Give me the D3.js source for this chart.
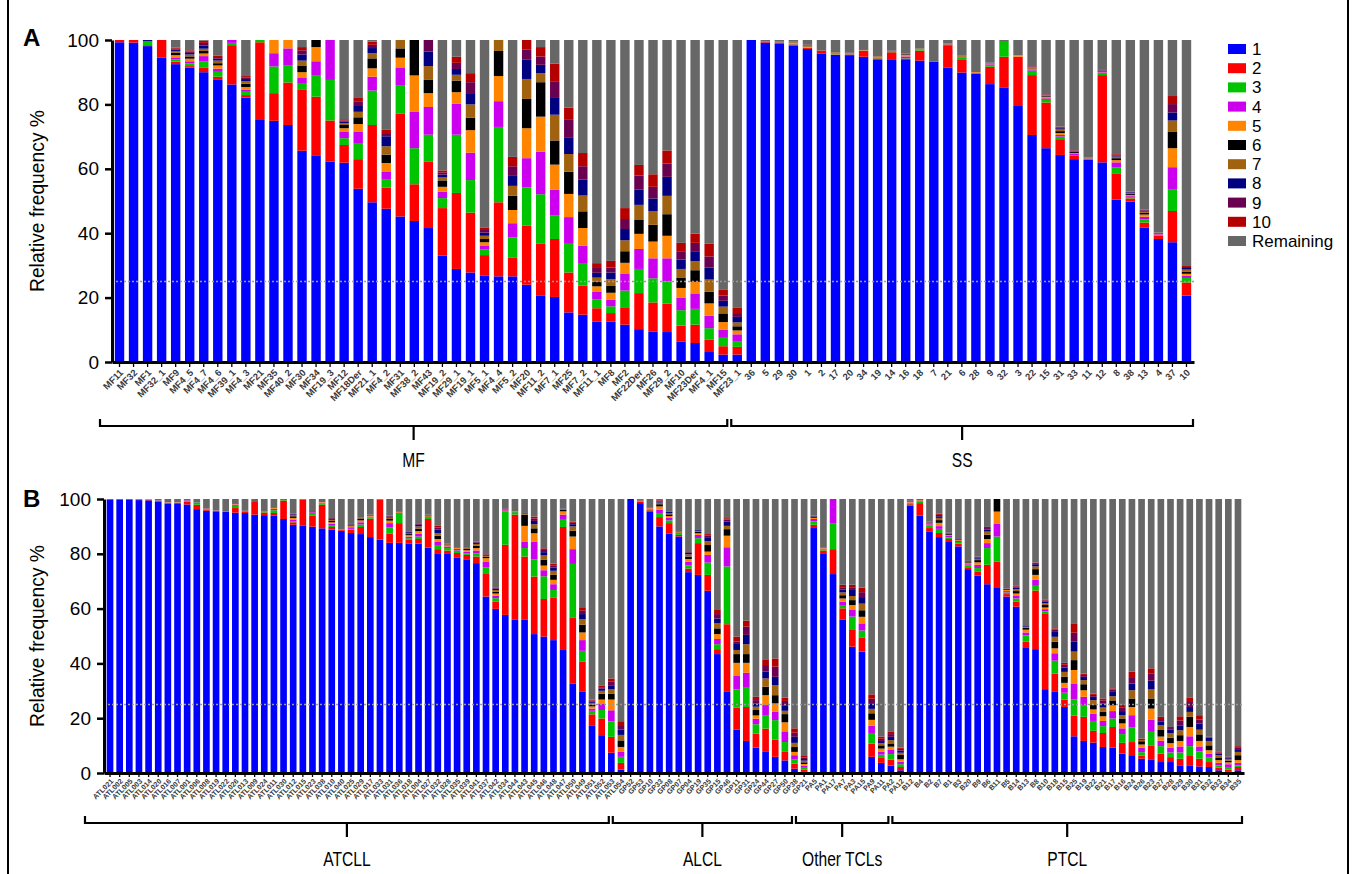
<!DOCTYPE html>
<html>
<head>
<meta charset="utf-8">
<script src="https://cdn.jsdelivr.net/npm/d3@7"></script>
<style>
  body { margin: 0; background: #fff; }
  svg { display: block; font-family: "Liberation Sans", Arial, Helvetica, sans-serif; }
  .narrow { font-family: "Liberation Sans Narrow", "Liberation Sans", Arial, sans-serif; }
</style>
</head>
<body>
<div id="chart"></div>
<script>
// ---- data: panel A (MF / SS samples) ----
const mfNames = ["MF11","MF32","MF1","MF32_1","MF9","MF4_5","MF4_7","MF4_6","MF39_1","MF4_3",
  "MF21","MF35","MF40_2","MF30","MF34","MF19_3","MF12","MF18Der","MF21_1","MF4_2",
  "MF31","MF38_2","MF43","MF19_2","MF29_1","MF19_1","MF5_1","MF4_4","MF5_2","MF20",
  "MF11_2","MF7_1","MF25","MF7_2","MF11_1","MF8","MF2","MF22Der","MF26","MF29_2",
  "MF10","MF23Der","MF4_1","MF15","MF23_1"];
const ssNames = ["36","5","29","30","1","2","17","20","34","19","14","16","18","7","21","6",
  "28","9","32","3","22","15","31","33","11","12","8","38","13","4","37","10"];

const aC1 = [99.3,99.2,98.1,94.6,92.5,91.4,90.0,87.8,86.2,82.1, 75.4,74.9,73.6,65.6,64.2,62.3,61.9,53.8,49.6,47.6,
  45.2,43.8,41.6,33.0,28.9,27.8,26.9,26.6,26.6,24.0, 20.7,20.2,15.4,14.7,12.6,12.6,11.6,10.2,9.5,9.3, 6.4,5.9,3.1,2.3,2.3,
  100,99.2,98.8,98.3,97.2,95.7,95.4,95.3,94.8,94.0, 93.8,93.8,93.6,93.3,91.5,89.9,89.5,86.3,85.3,79.5,
  70.5,66.4,64.3,63.0,62.8,62.0,50.4,49.8,41.8,38.2, 37.2,20.6];
const aC2 = [0.7,0.8,0.3,5.4,0.8,0.5,1.5,0.8,12.2,0.8, 23.9,8.6,13.2,18.9,18.2,12.7,5.5,9.2,24.0,6.6,
  32.0,11.4,20.7,14.8,23.6,18.6,6.3,23.0,5.9,18.3, 16.0,18.0,12.4,9.0,4.1,2.6,5.4,11.2,9.0,8.8, 4.9,5.7,3.8,2.6,2.4,
  0,0.2,0.4,0.3,0.3,1.0,0.1,0.2,1.8,0.3, 2.4,0.3,3.1,0,6.9,3.9,0.2,5.4,9.5,15.3,
  18.6,14.2,4.9,1.0,0.2,27.1,8.2,1.0,1.5,1.0, 9.7,4.1];
const aC3 = [0,0,1.3,0,0.7,0.8,1.8,1.5,0.7,1.0, 0.7,8.3,5.4,1.9,6.5,12.6,2.1,5.0,10.7,2.4,
  8.8,11.2,8.3,3.1,18.1,10.1,1.7,23.4,6.2,11.9, 15.4,7.4,8.9,6.8,2.8,2.1,5.2,7.5,7.5,6.9, 4.8,4.9,3.6,2.6,1.8,
  0,0,0.1,0.1,0.1,0,0.1,0.1,0.1,0.1, 0.1,0.2,0.2,0,0.1,0.7,0,0.6,4.6,0,
  1.4,0.8,0.8,0.3,0.1,0.7,1.9,0.4,1.0,0.3, 6.8,1.4];
const aC4 = [0,0,0,0,0.6,0.7,1.7,1.0,0.9,0.7, 0,4.1,5.2,1.8,4.5,12.4,2.1,3.6,4.3,2.6,
  5.5,11.4,8.6,2.0,9.6,8.5,1.3,8.0,4.4,9.1, 13.2,7.9,8.3,5.6,2.4,2.1,5.3,6.2,6.2,7.2, 3.8,4.8,3.9,2.6,2.1,
  0,0,0.1,0.1,0.1,0,0,0.1,0.1,0.2, 0.1,0.6,0.2,0,0.1,0.2,0,0.2,0,0,
  0.4,0.5,0.5,0.3,0.1,0.2,1.5,0.3,0.8,0.2, 6.8,0.7];
const aC5 = [0,0,0,0,0.7,0.8,0.8,1.0,0,0.8, 0,4.1,2.6,1.8,4.4,0,1.0,2.3,2.6,2.6,
  3.0,11.2,4.3,1.5,3.6,7.0,1.0,7.8,4.1,9.3, 10.9,7.8,7.2,5.5,1.6,2.1,3.3,4.7,5.2,7.0, 3.1,3.6,3.8,2.3,1.2,
  0,0,0.1,0.3,0.3,0,0.3,0.2,0.1,0.2, 0.1,0.5,0.1,0,0.1,0.2,0.3,0.2,0,0.5,
  0.3,0.5,0.6,0.3,0.1,0.2,0.7,0.4,0.7,0.2, 5.9,0.6];
const aC6 = [0,0,0,0,0.7,0.7,0.8,0.7,0,1.0, 0,0,0,2.1,2.2,0,1.0,2.1,3.1,2.6,
  2.9,11.0,4.1,2.0,3.6,3.9,1.0,7.8,4.4,9.1, 10.7,7.5,6.9,5.2,1.5,2.1,3.6,4.3,5.2,6.7, 3.1,3.6,3.6,2.7,1.3,
  0,0,0.1,0.1,0.1,0,0.1,0.1,0.1,0.1, 0.1,0.2,0.1,0,0.1,0.1,0,0.1,0,0,
  0.2,0.3,0.6,0.3,0.1,0.2,0.6,0.3,0.5,0.2, 5.2,0.7];
const aC7 = [0,0,0,0,0.6,0.6,0.7,0.8,0,0.8, 0,0,0,1.5,0,0,0.6,1.7,1.6,2.6,
  2.6,0,4.3,0.9,1.8,4.1,1.0,3.4,3.1,6.2, 2.8,8.0,5.5,4.9,1.2,2.1,3.4,4.7,4.3,5.7, 2.8,2.8,3.8,2.1,1.2,
  0,0.1,0,0.2,0.2,0,0.2,0.1,0.1,0.1, 0.1,0.1,0.1,0,0.1,0.1,0,0.1,0,0,
  0.2,0.2,0.5,0.2,0.1,0.1,0.5,0.3,0.4,0.1, 3.4,0.6];
const aC8 = [0,0,0.3,0,0.4,0.5,1.0,0.6,0,0.7, 0,0,0,1.9,0,0,0.5,1.8,1.6,3.1,
  0,0,4.5,0.9,1.8,3.5,1.0,0,3.1,6.1, 2.6,5.2,5.2,5.0,1.5,2.1,3.5,4.7,3.9,5.9, 2.9,3.1,3.7,1.8,1.7,
  0,0,0,0.1,0.1,0,0,0.1,0.1,0, 0.1,0.1,0,0,0,0,0,0.1,0,0,
  0.1,0.1,0.4,0.2,0,0.1,0.3,0.2,0.3,0, 2.5,0.5];
const aC9 = [0,0,0,0,0.3,0.4,0.8,0.5,0,0.5, 0,0,0,1.3,0,0,0.3,1.3,1.0,1.0,
  0,0,3.6,0.7,1.9,3.4,0.8,0,3.0,3.1, 2.6,5.2,5.6,4.1,1.5,1.5,3.1,4.4,3.6,4.1, 2.6,2.6,3.5,1.6,1.2,
  0,0.1,0,0,0.1,0,0,0,0,0, 0,0,0,0,0,0,0,0,0,0,
  0.1,0.1,0.3,0.1,0,0.1,0.3,0.1,0.2,0, 2.6,0.3];
const aC10 = [0,0,0,0,0.3,0.4,0.7,0.4,0,0.4, 0,0,0,1.0,0,0,0.4,1.2,1.0,1.0,
  0,0,0,0.6,1.9,2.8,0.8,0,2.9,2.9, 2.9,5.5,3.6,4.1,1.5,2.1,3.4,3.3,3.9,4.1, 2.6,2.9,3.9,1.8,1.6,
  0,0,0,0,0,0,0,0,0,0, 0,0,0,0,0,0,0,0,0,0,
  0.1,0.1,0.2,0.1,0,0,0.2,0.1,0.1,0, 2.5,0.3];

// ---- data: panel B (ATCLL / ALCL / Other TCLs / PTCL) ----
const atcllNames = ["ATL021","ATL002","ATL005","ATL003","ATL014","ATL020","ATL016","ATL007","ATL001","ATL006",
  "ATL008","ATL019","ATL022","ATL026","ATL013","ATL009","ATL024","ATL011","ATL030","ATL012",
  "ATL015","ATL023","ATL038","ATL010","ATL040","ATL025","ATL029","ATL017","ATL033","ATL031",
  "ATL036","ATL018","ATL004","ATL027","ATL032","ATL028","ATL035","ATL039","ATL041","ATL037",
  "ATL042","ATL034","ATL044","ATL043","ATL045","ATL046","ATL048","ATL047","ATL050","ATL049",
  "ATL051","ATL052","ATL053","ATL054"];
const alclNames = ["GP52","GP53","GP10","GP33","GP08","GP07","GP04","GP19","GP35","GP15",
  "GP46","GP11","GP31","GP24","GP44","GP27","GP50","GP38","GP21"];
const otherNames = ["PA5","PA1","PA17","PA7","PA3","PA15","PA9","PA11","PA2","PA12"];
const ptclNames = ["B12","B4","B2","B7","B1","B3","B20","B9","B6","B11",
  "B5","B14","B13","B8","B10","B18","B15","B25","B19","B22",
  "B21","B17","B16","B24","B26","B23","B27","B28","B29","B30",
  "B31","B32","B33","B34","B35"];

const bC1 = [99.8,99.8,99.8,99.6,99.5,99.0,98.3,98.2,98.0,96.3, 95.7,95.5,95.4,95.0,94.9,94.3,94.1,94.0,92.7,90.6,
  90.2,89.9,89.3,88.8,88.4,87.6,87.2,86.1,85.2,84.0, 84.0,83.8,83.7,82.3,80.2,80.2,78.7,78.0,76.6,64.4,
  59.9,57.7,55.9,55.9,50.7,49.8,48.5,44.9,32.7,29.6, 17.4,13.8,7.4,1.2,
  100,98.5,95.5,90.0,87.3,86.3,73.3,72.3,66.5,43.4, 29.6,15.9,11.7,9.3,7.7,5.9,4.6,1.6,0.6,
  89.4,80.2,72.6,55.9,46.1,44.3,5.9,3.7,2.7,1.0,
  97.6,93.9,88.2,86.1,84.3,82.7,74.4,72.0,68.9,67.8, 64.4,60.7,45.9,45.2,30.6,29.6,24.1,13.4,11.7,11.1,
  9.5,9.3,7.1,6.5,5.2,5.0,4.0,4.0,2.8,2.8, 2.4,2.2,1.0,0.6,1.0];
const bC2 = [0.2,0.2,0.2,0.2,0.2,0.3,0.3,0.4,1.1,1.6, 0.3,0.2,0.1,1.7,0.6,4.6,1.0,0.9,6.7,0.9,
  9.6,4.0,8.6,1.0,0.3,1.2,2.6,6.7,14.6,3.3, 7.2,1.3,1.7,10.4,1.5,1.0,1.6,1.6,2.4,8.5,
  2.7,25.6,38.4,23.1,21.0,13.7,15.6,44.9,24.1,11.0, 4.0,6.1,5.8,2.5,
  0,0.5,0.4,3.4,3.9,0.6,1.3,11.6,5.8,1.8, 24.7,8.0,12.4,5.1,8.5,6.3,3.3,1.8,0.6,
  1.2,1.0,9.1,4.2,6.1,5.2,4.8,1.8,2.2,1.2,
  0.5,4.6,1.2,1.5,1.1,1.0,0.7,1.6,7.1,9.4, 0.9,1.8,2.1,21.4,27.7,6.7,2.7,7.6,8.8,4.3,
  5.1,7.5,3.9,4.8,1.2,5.1,3.1,1.8,2.4,3.4, 2.8,1.8,1.0,0.6,1.2];
const bC3 = [0,0,0,0.1,0.1,0.1,0.1,0.1,0.2,0.9, 0.2,0.1,0.1,0.8,0.1,0,0.3,1.0,0.2,0.4,
  0,1.0,0.5,0.7,0.2,0.3,0.9,0.5,0,2.3, 3.4,0.6,0.9,0.4,1.5,0.9,0.9,0.6,1.2,2.2,
  1.2,12.2,0.9,3.1,6.3,8.3,2.7,2.9,19.5,4.0, 1.3,3.1,5.6,2.2,
  0,0.2,0.3,1.5,1.0,0.4,1.2,1.8,4.5,1.8, 21.1,6.6,7.0,3.4,4.7,7.1,3.4,1.5,0.7,
  1.2,0.4,9.5,1.2,4.9,2.5,3.9,1.2,2.0,1.0,
  0.3,0.6,0.9,1.5,0.6,0.6,0.6,1.2,6.1,9.1, 0.6,1.2,2.2,1.7,0.7,4.7,2.5,5.8,4.3,3.6,
  2.5,3.1,3.2,5.3,1.2,4.9,2.7,1.7,2.3,3.6, 2.7,1.6,0.7,1.0,0.6];
const bC4 = [0,0,0,0.1,0.1,0.1,0.1,0.1,0.2,0.1, 0.2,0.1,0,0.5,0.1,0,0.2,0.5,0,0.6,
  0,0.3,0.3,0.5,0.1,0.6,0.8,0.3,0,1.6, 0.4,0.6,1.0,0.3,1.3,0.6,0.6,0.5,1.0,2.1,
  0.9,0.4,0.3,2.4,6.5,2.2,2.1,1.6,5.4,3.9, 0.8,2.4,4.1,1.8,
  0,0.2,0.3,1.2,0.9,0.3,1.3,1.2,2.8,1.9, 7.0,4.9,5.5,2.0,3.9,3.0,3.9,1.6,0.7,
  0.9,0.3,8.8,1.2,2.4,2.6,2.7,1.0,1.5,0.9,
  0.3,0.3,0.5,1.0,0.5,0.4,0.5,1.2,1.8,4.6, 0.5,0.9,1.1,2.2,0.8,2.7,1.9,5.9,3.0,2.7,
  1.9,2.7,2.1,4.5,1.6,4.5,2.0,1.7,2.2,3.6, 1.8,1.5,1.0,1.0,0.9];
const bC5 = [0,0,0,0,0.1,0,0.1,0.1,0,0, 0.1,0,0,0.2,0,0,0,0.3,0,0.6,
  0,0.2,0.2,0.5,0,0.4,0.7,0.3,0,0.9, 0.2,0.5,1.0,0.3,0.9,0.4,0.3,0.6,0.9,1.2,
  0.8,0.3,0.2,5.7,3.0,1.7,1.6,1.2,4.6,2.8, 0.8,1.4,3.9,1.8,
  0,0.1,0.2,1.2,0.7,0.2,1.0,0.6,1.2,1.8, 4.2,4.8,3.6,1.2,3.6,3.1,3.3,1.2,0.7,
  0.4,0.2,0,1.2,1.8,2.4,2.1,1.2,1.2,0.9,
  0.2,0.2,0.3,1.2,0.4,0.3,0.4,0.9,1.5,4.5, 0.4,0.9,1.0,1.8,0.6,1.8,1.7,4.9,2.4,1.5,
  1.7,2.1,1.8,3.0,1.2,4.0,1.5,1.7,2.0,3.4, 2.0,1.2,1.0,0.7,1.0];
const bC6 = [0,0,0,0,0,0,0,0,0,0, 0.1,0,0,0.2,0,0,0,0.2,0,0.6,
  0,0.2,0,0.5,0,0.3,0.5,0.2,0,0.6, 0.2,0.4,0.9,0.3,1.2,0.3,0.2,0.5,0.8,0.5,
  0.7,0.2,0.2,4.1,1.8,2.2,1.8,0.5,2.1,2.8, 0.7,2.2,2.2,2.4,
  0,0.1,0.1,0.8,0.6,0.1,0.9,0.5,2.4,2.1, 2.4,3.2,3.2,2.0,3.1,3.0,3.0,1.8,0.6,
  0.3,0.1,0,1.2,1.8,2.4,2.4,1.2,1.2,1.6,
  0.2,0.2,0.2,1.0,0.3,0.3,0.3,0.8,1.6,4.6, 0.3,0.9,0.7,2.1,0.9,2.4,2.2,3.6,2.2,1.6,
  1.6,1.8,1.8,3.1,1.2,3.7,2.4,2.0,2.1,3.7, 2.4,1.8,1.0,0.6,1.8];
const bC7 = [0,0,0,0,0,0,0,0,0,0, 0,0,0,0.1,0,0,0,0.1,0,0.4,
  0,0,0,0.4,0,0.3,0.3,0.2,0,0.5, 0,0.4,0.8,0.2,1.0,0.2,0.1,0.3,0.7,0.4,
  0.6,0.2,0,0.3,1.5,1.5,1.5,0.3,1.6,2.1, 0.6,1.0,1.5,2.0,
  0,0.1,0.1,0.6,0.5,0.1,0.8,0.4,1.4,1.8, 1.2,1.5,3.6,1.2,3.0,3.7,1.2,1.5,0.6,
  0.2,0.1,0,1.0,1.5,2.4,1.6,0.8,1.2,0.8,
  0.2,0.1,0.1,0.8,0.3,0.2,0.2,0.5,1.1,0, 0.2,0.7,0.4,1.0,0.7,1.8,1.8,3.1,1.5,1.8,
  1.6,1.5,1.2,3.0,0.5,3.3,1.8,1.7,1.8,1.8, 1.7,1.6,0.8,0.5,1.2];
const bC8 = [0,0,0,0,0,0,0,0,0,0, 0,0,0,0,0,0,0,0,0,0.3,
  0,0,0,0.3,0,0.2,0.2,0.1,0,0.4, 0,0.3,0.6,0.1,1.2,0.1,0,0.2,0.5,0.3,
  0.5,0.1,0,0.2,1.2,1.2,1.2,0.2,0.8,1.8, 0.5,0.8,1.3,2.0,
  0,0.1,0.1,0.4,0.4,0,0.6,0.3,1.2,1.8, 1.6,2.2,3.4,1.2,2.5,3.0,1.8,2.2,0.6,
  0.2,0.1,0,1.0,2.2,2.4,2.1,0.8,1.2,0.8,
  0.1,0.1,0.1,0.6,0.2,0.2,0.2,0.4,0.8,0, 0.1,0.6,0.3,0.8,0.6,1.8,1.6,3.6,1.2,1.2,
  1.5,1.6,1.5,2.4,0.3,3.2,1.2,1.2,1.8,1.8, 2.2,1.2,0.6,0.4,1.0];
const bC9 = [0,0,0,0,0,0,0,0,0,0, 0,0,0,0,0,0,0,0,0,0.2,
  0,0,0,0.3,0,0,0,0,0,0.3, 0,0.1,0.4,0,0.8,0,0,0,0.3,0.2,
  0.3,0,0,0.1,0.9,0.8,0.8,0,0.5,1.2, 0.4,0.5,1.5,1.6,
  0,0.1,0,0.3,0.2,0,0.4,0.2,0.8,1.6, 0.7,0.9,3.0,1.2,2.4,3.7,1.8,1.5,0.5,
  0.1,0,0,0.9,1.0,1.8,1.6,0.8,1.0,0.6,
  0.1,0,0.1,0.5,0.1,0,0.1,0.4,0.5,0, 0,0.4,0.2,0.4,0.4,0.8,1.0,3.3,0.7,0.7,
  1.1,0.8,1.2,2.4,0.1,2.7,1.0,0.6,1.8,1.8, 1.5,0.2,0.4,0.3,0.7];
const bC10 = [0,0,0,0,0,0,0,0,0,0, 0,0,0,0,0,0,0,0,0,0,
  0,0,0,0,0,0,0,0,0,0, 0,0,0.2,0,0.6,0,0,0,0,0.1,
  0.2,0,0,0,0.7,0.6,0.6,0,0.4,1.3, 0.3,0.5,1.2,1.4,
  0,0.1,0,0.2,0,0,0.2,0.1,0.6,1.5, 0.5,1.8,2.2,1.2,2.1,3.0,1.2,1.6,0.6,
  0,0,0,0.9,0.9,1.7,1.6,0.8,1.0,0.5,
  0,0,0.1,0.4,0,0,0,0,0.4,0, 0,0.2,0.1,0.2,0.2,0.5,0.7,3.2,0.5,0.5,
  0.7,0.5,1.0,2.0,0.1,1.8,0.8,0.4,1.5,1.7, 1.6,0.1,0.2,0.2,0.4];

const yTicks = [0, 20, 40, 60, 80, 100];
const clones = ["1","2","3","4","5","6","7","8","9","10","Remaining"];
const cloneColors = ["#0000ff","#ff0000","#00c400","#cc00ee","#ff8500","#000000",
  "#a0620f","#000080","#6a0050","#b50000","#676767"];

// CHART START
const width = 1356;
const height = 874;

const svg = d3.select("div#chart").append("svg")
  .attr("width", width).attr("height", height);

// frame
svg.append("line").attr("x1", 8).attr("x2", 8).attr("y1", 0).attr("y2", height)
  .attr("stroke", "#000").attr("stroke-width", 2);
svg.append("line").attr("x1", 1348).attr("x2", 1348).attr("y1", 0).attr("y2", height)
  .attr("stroke", "#000").attr("stroke-width", 2);

function buildRows(names, series) {
  return names.map((name, i) => {
    const row = { name: name };
    let sum = 0;
    series.forEach((s, k) => { row[clones[k]] = s[i]; sum += s[i]; });
    row.Remaining = Math.max(0, 100 - sum);
    return row;
  });
}

function drawPanel(p) {
  const names = [].concat(...p.groups.map(g => g.names));
  const rows = buildRows(names, p.series);

  const x = d3.scaleBand().domain(d3.range(names.length))
    .range(p.xRange).paddingInner(p.padIn).paddingOuter(p.padOut);
  const y = d3.scaleLinear().domain([0, 100]).range([p.yBottom, p.yTop]);

  const g = svg.append("g").attr("class", "panel");

  // stacked bars
  const layers = d3.stack().keys(clones)(rows);
  g.selectAll("g.layer").data(layers).join("g")
    .attr("class", "layer")
    .attr("fill", (d, i) => cloneColors[i])
    .selectAll("rect").data(d => d).join("rect")
    .attr("x", (d, i) => x(i))
    .attr("width", x.bandwidth())
    .attr("y", d => y(d[1]))
    .attr("height", d => Math.max(0, y(d[0]) - y(d[1])));

  // 25% threshold
  g.append("line")
    .attr("x1", p.xRange[0]).attr("x2", p.xRange[1])
    .attr("y1", y(25)).attr("y2", y(25))
    .attr("stroke", "#9a9a9a").attr("stroke-width", 1.5)
    .attr("stroke-dasharray", "2,2");

  // y axis
  const yAxis = g.append("g")
    .attr("transform", `translate(${p.xRange[0]},0)`)
    .call(d3.axisLeft(y).tickValues(yTicks).tickSize(7).tickSizeOuter(0).tickPadding(6));
  yAxis.select(".domain").attr("stroke-width", 3);
  yAxis.selectAll(".tick line").attr("stroke-width", 2.5);
  yAxis.selectAll("text").attr("font-size", 19).attr("fill", "#000")
    .attr("font-family", "Liberation Sans, Arial, sans-serif");

  // x axis
  const xAxis = g.append("g")
    .attr("transform", `translate(0,${p.yBottom})`)
    .call(d3.axisBottom(x).tickSize(p.tickLen).tickSizeOuter(0).tickFormat(i => names[i]));
  xAxis.select(".domain").attr("stroke-width", 3);
  xAxis.selectAll(".tick line").attr("stroke-width", 1.3);
  xAxis.selectAll("text")
    .attr("font-size", p.labelSize).attr("font-weight", "bold").attr("fill", "#3a3a3a")
    .attr("font-family", "Liberation Sans, Arial, sans-serif")
    .attr("text-anchor", "end")
    .attr("x", 0).attr("y", 0).attr("dy", "0.35em")
    .attr("transform", `translate(2,${p.labelDrop}) rotate(-45)`);

  // y title
  g.append("text")
    .attr("class", "narrow")
    .attr("transform", `translate(44,${(p.yTop + p.yBottom) / 2}) rotate(-90)`)
    .attr("text-anchor", "middle")
    .attr("font-size", 21)
    .attr("textLength", 182).attr("lengthAdjust", "spacingAndGlyphs")
    .text("Relative frequency %");

  // panel letter
  svg.append("text").attr("x", 23).attr("y", p.letterY)
    .attr("font-size", 24).attr("font-weight", "bold").text(p.letter);

  // group brackets
  const bw = x.bandwidth();
  const bounds = [p.xRange[0] - p.bracketPadL];
  let offset = 0;
  p.groups.forEach((grp, gi) => {
    offset += grp.names.length;
    if (gi < p.groups.length - 1) {
      bounds.push((x(offset - 1) + bw + x(offset)) / 2 - p.bracketShift);
    }
  });
  bounds.push(p.xRange[1] - p.bracketPadR);

  p.groups.forEach((grp, gi) => {
    const x0 = bounds[gi] + (gi === 0 ? 0 : 2);
    const x1 = bounds[gi + 1] - (gi === p.groups.length - 1 ? 0 : 2);
    const mid = (x0 + x1) / 2;
    const by = p.bracketY;
    g.append("path")
      .attr("d", `M${x0},${by - 7}V${by}H${x1}V${by - 7}M${mid},${by}V${by + 14}`)
      .attr("fill", "none").attr("stroke", "#000").attr("stroke-width", 2.2);
    // condensed group label
    g.append("text")
      .attr("class", "narrow")
      .attr("transform", `translate(${mid},${p.groupLabelY}) scale(0.78,1)`)
      .attr("text-anchor", "middle")
      .attr("font-size", 20)
      .text(grp.label);
  });
}

drawPanel({
  letter: "A", letterY: 46,
  groups: [{ label: "MF", names: mfNames }, { label: "SS", names: ssNames }],
  series: [aC1, aC2, aC3, aC4, aC5, aC6, aC7, aC8, aC9, aC10],
  xRange: [112, 1194], padIn: 0.33, padOut: 0.2,
  yTop: 40, yBottom: 362,
  tickLen: 5, labelSize: 9.5, labelDrop: 9,
  bracketY: 426, groupLabelY: 467,
  bracketPadL: 12, bracketPadR: 1, bracketShift: 15
});

drawPanel({
  letter: "B", letterY: 507,
  groups: [
    { label: "ATCLL", names: atcllNames },
    { label: "ALCL", names: alclNames },
    { label: "Other TCLs", names: otherNames },
    { label: "PTCL", names: ptclNames }
  ],
  series: [bC1, bC2, bC3, bC4, bC5, bC6, bC7, bC8, bC9, bC10],
  xRange: [104, 1244], padIn: 0.31, padOut: 0.28,
  yTop: 499, yBottom: 773,
  tickLen: 4, labelSize: 7.2, labelDrop: 7,
  bracketY: 823, groupLabelY: 866,
  bracketPadL: 19, bracketPadR: 2, bracketShift: 15
});

// legend
const legend = svg.append("g").attr("class", "legend")
  .attr("transform", "translate(1228,49)");
const item = legend.selectAll("g").data(clones).join("g")
  .attr("transform", (d, i) => `translate(0,${i * 19.2})`);
item.append("rect").attr("x", 0).attr("y", -5).attr("width", 18).attr("height", 10)
  .attr("fill", (d, i) => cloneColors[i]);
item.append("text").attr("x", 24).attr("y", 6).attr("font-size", 17).text(d => d);
// CHART END
</script>
</body>
</html>
